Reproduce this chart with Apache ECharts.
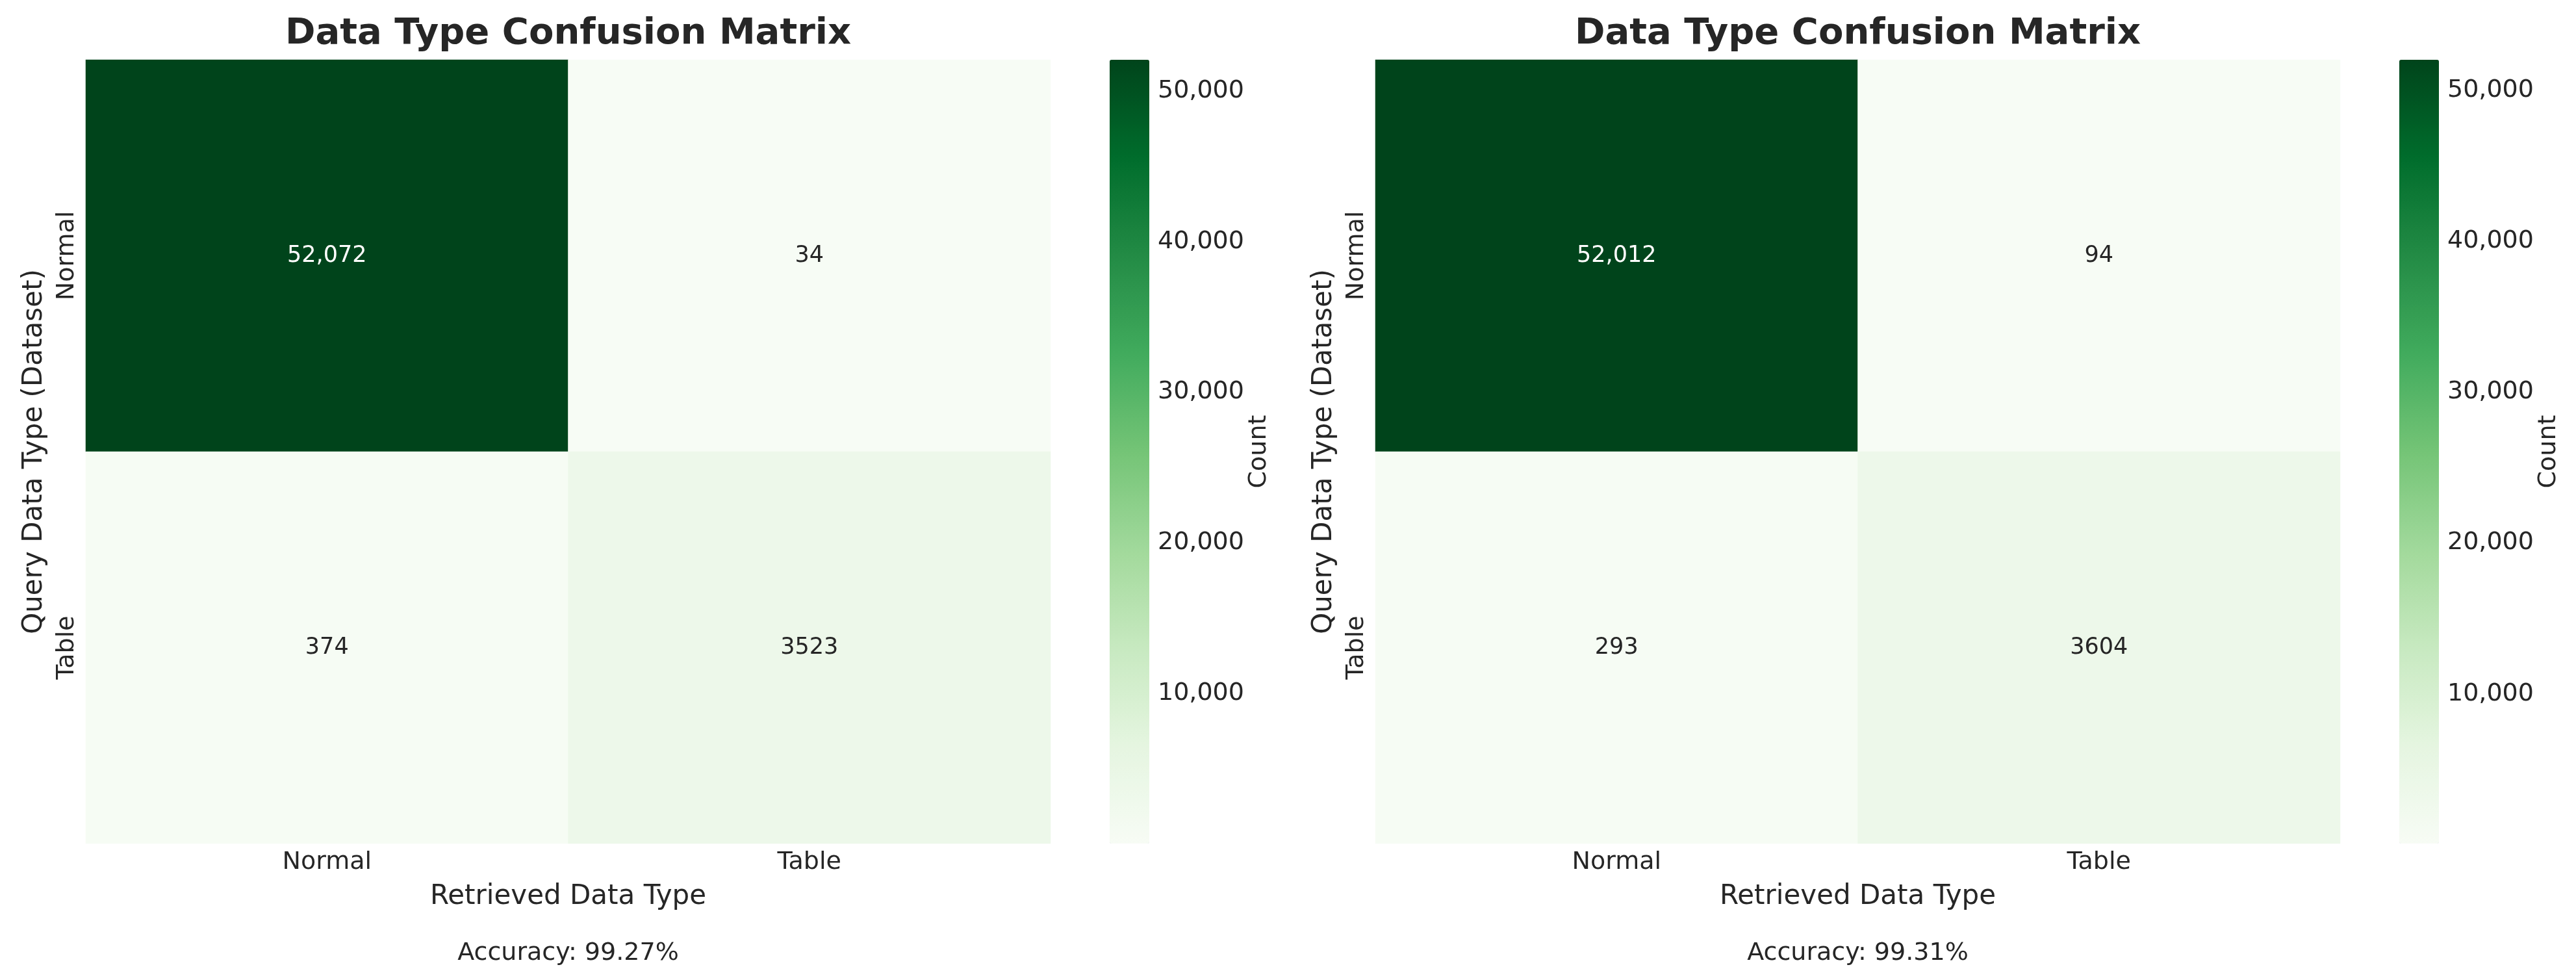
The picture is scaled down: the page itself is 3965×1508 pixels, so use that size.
<!DOCTYPE html>
<html>
<head>
<meta charset="utf-8">
<title>Data Type Confusion Matrix</title>
<script src="https://cdn.jsdelivr.net/npm/echarts@6/dist/echarts.min.js"></script>
<style>
  html, body { margin: 0; padding: 0; background: #fff; }
  #main { width: 3965px; height: 1508px; }
</style>
</head>
<body>
<div id="main"></div>
<script>
// categories shared by both axes
var categories = ['Normal', 'Table']
// rows = query type (dataset), cols = retrieved type
var leftMatrix = [
  [52072, 34],
  [374, 3523]
]
var rightMatrix = [
  [52012, 94],
  [293, 3604]
]
var accuracyTexts = ['Accuracy: 99.27%', 'Accuracy: 99.31%']
// matplotlib Greens
var greens = ['#f7fcf5', '#e5f5e0', '#c7e9c0', '#a1d99b', '#74c476', '#41ab5d', '#238b45', '#006d2c', '#00441b']

var font = 'DejaVu Sans'
var ink = '#262626'

// layout of each panel
var panels = [
  { left: 132, matrix: leftMatrix },
  { left: 2117, matrix: rightMatrix }
]
var gridTop = 92
var gridW = 1485
var gridH = 1206
var cbOffset = 1576
var cbW = 61

function fmtNum (v) {
  return v >= 10000 ? v.toLocaleString('en-US') : String(v)
}

function buildData (matrix, min, max) {
  var out = []
  for (var r = 0; r < matrix.length; r++) {
    for (var c = 0; c < matrix[r].length; c++) {
      var v = matrix[r][c]
      var t = (v - min) / (max - min)
      out.push({
        value: [c, r, v],
        label: { color: t > 0.6 ? '#ffffff' : ink }
      })
    }
  }
  return out
}

var grid = []
var xAxis = []
var yAxis = []
var series = []
var visualMap = []
var title = []

panels.forEach(function (p, i) {
  var flat = [].concat.apply([], p.matrix)
  var min = Math.min.apply(null, flat)
  var max = Math.max.apply(null, flat)
  var center = p.left + gridW / 2

  // heatmap grid
  grid.push({ left: p.left, top: gridTop, width: gridW, height: gridH })
  // colorbar grid (only for its axis)
  grid.push({ left: p.left + cbOffset, top: gridTop, width: cbW, height: gridH })

  xAxis.push({
    type: 'category',
    gridIndex: i * 2,
    data: categories,
    name: 'Retrieved Data Type',
    nameLocation: 'middle',
    nameGap: 61,
    nameTextStyle: { fontFamily: font, fontSize: 42, color: ink },
    axisLine: { show: false },
    axisTick: { show: false },
    splitLine: { show: false },
    axisLabel: { fontFamily: font, fontSize: 38, color: ink, margin: 10 }
  })
  xAxis.push({ type: 'value', gridIndex: i * 2 + 1, show: false })

  yAxis.push({
    type: 'category',
    gridIndex: i * 2,
    data: categories,
    inverse: true,
    name: 'Query Data Type (Dataset)',
    nameLocation: 'middle',
    nameGap: 58,
    nameTextStyle: { fontFamily: font, fontSize: 42, color: ink },
    axisLine: { show: false },
    axisTick: { show: false },
    splitLine: { show: false },
    axisLabel: { fontFamily: font, fontSize: 38, color: ink, rotate: 90, margin: 10 }
  })
  yAxis.push({
    type: 'value',
    gridIndex: i * 2 + 1,
    position: 'right',
    min: min,
    max: max,
    splitNumber: 5,
    name: 'Count',
    nameLocation: 'middle',
    nameGap: 138,
    nameTextStyle: { fontFamily: font, fontSize: 38, color: ink },
    axisLine: { show: false },
    axisTick: { show: false },
    splitLine: { show: false },
    axisLabel: {
      fontFamily: font,
      fontSize: 38,
      color: ink,
      margin: 13,
      showMinLabel: false,
      showMaxLabel: false,
      formatter: function (v) { return v.toLocaleString('en-US') }
    }
  })

  series.push({
    type: 'heatmap',
    xAxisIndex: i * 2,
    yAxisIndex: i * 2,
    data: buildData(p.matrix, min, max),
    label: {
      show: true,
      fontFamily: font,
      fontSize: 35,
      formatter: function (d) { return fmtNum(d.value[2]) }
    },
    emphasis: { disabled: true }
  })

  visualMap.push({
    type: 'continuous',
    seriesIndex: i,
    min: min,
    max: max,
    calculable: false,
    hoverLink: false,
    orient: 'vertical',
    left: p.left + cbOffset,
    top: gridTop,
    padding: 0,
    itemWidth: cbW,
    itemHeight: gridH,
    text: null,
    showLabel: false,
    inRange: { color: greens }
  })

  title.push({
    text: 'Data Type Confusion Matrix',
    left: center,
    top: 24,
    padding: 0,
    textAlign: 'center',
    textStyle: { fontFamily: font, fontSize: 56, fontWeight: 'bold', color: ink }
  })
  title.push({
    text: accuracyTexts[i],
    left: center,
    top: 1448,
    padding: 0,
    textAlign: 'center',
    textStyle: { fontFamily: font, fontSize: 38, fontWeight: 'normal', color: ink }
  })
})

var chart = echarts.init(document.getElementById('main'))
chart.setOption({
  backgroundColor: '#ffffff',
  animation: false,
  title: title,
  grid: grid,
  xAxis: xAxis,
  yAxis: yAxis,
  visualMap: visualMap,
  series: series
})
</script>
</body>
</html>
